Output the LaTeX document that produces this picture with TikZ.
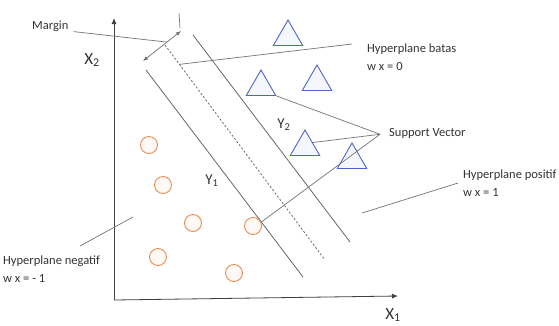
\documentclass[tikz,border=0pt]{standalone}
\usepackage{fontspec}
\setmainfont{Carlito}
\usetikzlibrary{shapes.geometric, arrows.meta, positioning, calc}

\definecolor{vecblue}{RGB}{80,100,195}
\definecolor{vecfill}{RGB}{244,248,254}
\definecolor{ptorange}{RGB}{228,140,85}
\definecolor{ptfill}{RGB}{254,249,244}

\begin{document}
\begin{tikzpicture}[
    x=1pt, y=-1pt,
    axis/.style={-{Latex[length=6pt,width=5pt]}, draw=black!75, line width=0.8pt},
    plane/.style={draw=black!60, line width=0.8pt},
    pointer/.style={draw=black!55, line width=0.7pt},
    support/.style={
        regular polygon, regular polygon sides=3, draw=vecblue, line width=0.9pt,
        fill=vecfill, minimum size=34pt, inner sep=0pt
    },
    sample/.style={
        circle, draw=ptorange, line width=0.9pt, fill=ptfill,
        minimum size=17pt, inner sep=0pt
    },
    caption/.style={
        font=\fontsize{12.5}{18}\selectfont, text=black!80,
        align=left, anchor=north west, inner sep=0pt
    },
    axislabel/.style={font=\fontsize{#1}{#1}\selectfont, text=black!80}
]
\useasboundingbox (0,0) rectangle (559,325);

% Axes
\coordinate (origin) at (114,300);
\coordinate (xend) at (398,296);
\coordinate (yend) at (114,18);
\draw[axis] (origin) -- (xend);
\draw[axis] (origin) -- (yend);
\node[axislabel=17] (x1) at (393,315) {X\textsubscript{1}};
\node[axislabel=17] (x2) at (92,60) {X\textsubscript{2}};

% Hyperplanes
\coordinate (neg a) at (146,70);
\coordinate (neg b) at (303,277);
\coordinate (mid a) at (165,45);
\coordinate (mid b) at (325,260);
\coordinate (pos a) at (193,35);
\coordinate (pos b) at (350,242);
\draw[plane] (neg a) -- (neg b);
\draw[plane, dash pattern=on 2pt off 2pt] (mid a) -- (mid b) coordinate[pos=0.09] (midpt);
\draw[plane] (pos a) -- (pos b);

% Margin arrow
\coordinate (marg a) at (181,31);
\coordinate (marg b) at (143,61);
\coordinate (tick) at (179,13);
\draw[pointer, {Latex[length=5pt,width=4pt]}-{Latex[length=5pt,width=4pt]}] (marg a) -- (marg b) coordinate[pos=0.37] (margpt);
\draw[pointer] (tick) -- ($(marg a)+(-1,-3)$);

% Class 1 (circles)
\node[sample] (c1) at (149,145) {};
\node[sample] (c2) at (163,185) {};
\node[sample] (c3) at (193,223) {};
\node[sample] (c4) at (158,257) {};
\node[sample] (c5) at (234,273) {};
\node[sample] (c6) at (253,226) {};

% Class 2 (triangles)
\node[support] (t1) at (288,37) {};
\node[support] (t2) at (261,87) {};
\node[support] (t3) at (317,82) {};
\node[support] (t4) at (305,147) {};
\node[support] (t5) at (352,160) {};

\node[axislabel=15] (y1) at (212,181) {Y\textsubscript{1}};
\node[axislabel=15] (y2) at (284,125) {Y\textsubscript{2}};

% Labels
\node[caption] (margin) at (32,21) {Margin};
\node[caption] (batas) at (367,44) {Hyperplane batas\\w x = 0};
\node[caption] (sv) at (389,128) {Support Vector};
\node[caption] (positif) at (463,170) {Hyperplane positif\\w x = 1};
\node[caption] (negatif) at (3,256) {Hyperplane negatif\\w x = - 1};

\coordinate (posfree) at (362,213);
\coordinate (negfree) at (133,217);
\coordinate (svhub) at ($(sv.west)+(-9,1)$);

% Pointers
\draw[pointer] ($(margin.east)+(5,5)$) -- (margpt);
\draw[pointer] ($(batas.north west)+(-15,0)$) -- (midpt);
\draw[pointer] (svhub) -- (t2.corner 3);
\draw[pointer] (svhub) -- (t4.side 3);
\draw[pointer] (svhub) -- (c6.25);
\draw[pointer] ($(positif.north west)+(-5,13)$) -- (posfree);
\draw[pointer] ($(negatif.north west)+(77,-10)$) -- (negfree);

\end{tikzpicture}
\end{document}
